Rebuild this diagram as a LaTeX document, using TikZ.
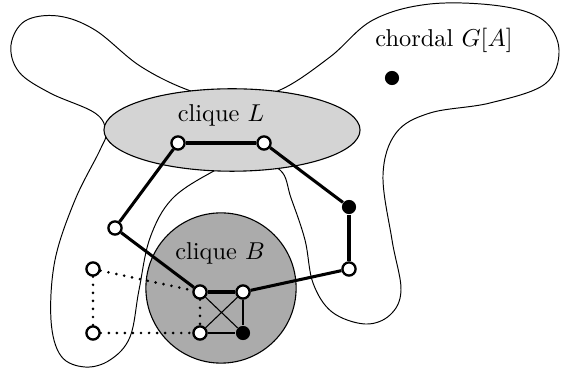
\documentclass[tikz,border=0pt]{standalone}
\pgfdeclarelayer{regions}
\pgfdeclarelayer{edges}
\pgfsetlayers{regions,edges,main}
\begin{document}
\begin{tikzpicture}[x=0.41pt,y=-0.41pt,
  blob/.style={line width=0.4pt},
  openv/.style={circle,draw,fill=white,line width=0.95pt,minimum size=5.4pt,inner sep=0pt},
  fullv/.style={circle,fill=black,minimum size=5.8pt,inner sep=0pt},
  thickedge/.style={line width=1.25pt},
  thinedge/.style={line width=0.45pt},
  dotedge/.style={line width=1.2pt,dash pattern=on 0pt off 3.3pt,line cap=round},
  lbl/.style={inner sep=0pt}]
\useasboundingbox (0,0) rectangle (561,370);
% vertices
\node[openv] (L1) at (178,143) {};
\node[openv] (L2) at (264,143) {};
\node[fullv] (R1) at (349,207) {};
\node[openv] (R2) at (349,269) {};
\node[openv] (P) at (115,228) {};
\node[openv] (B1) at (200,292) {};
\node[openv] (B2) at (243,292) {};
\node[openv] (B3) at (200,333) {};
\node[fullv] (B4) at (243,333) {};
\node[openv] (D1) at (93,269) {};
\node[openv] (D2) at (93,333) {};
\node[fullv] (X) at (392,78) {};
\node[lbl] (tL) at (221,115) {clique $L$};
\node[lbl] (tB) at (220,253) {clique $B$};
\node[lbl] (tA) at (444,40) {chordal $G[A]$};
\begin{pgfonlayer}{regions}
\draw[blob] plot[smooth cycle,tension=0.6] coordinates {
 (11,45) (25,21) (58,16) (95,30) (140,66) (188,90)
 (232,100) (280,90) (330,57) (373,20) (430,4) (500,6) (543,20) (559,50) (545,84)
 (490,103) (430,113) (396,133) (383,175) (392,240) (401,290) (390,315) (365,324)
 (332,312) (313,283) (305,240) (291,198) (280,170)
 (245,158) (212,172) (172,199) (150,238) (139,290) (130,337) (110,360) (85,367)
 (61,356) (51,320) (55,260) (75,200) (100,150) (106,132) (95,113) (50,93) (19,72)};
\draw[fill=black!17,line width=0.45pt] (232,130) ellipse [x radius=52.5pt,y radius=16.9pt];
\draw[fill=black!33,line width=0.45pt] (221,288) circle [radius=30.8pt];
\end{pgfonlayer}
\begin{pgfonlayer}{edges}
\draw[thickedge] (L1) -- (L2);
\draw[thickedge] (L2) -- (R1);
\draw[thickedge] (R1) -- (R2);
\draw[thickedge] (R2) -- (B2);
\draw[thickedge] (B2) -- (B1);
\draw[thickedge] (B1) -- (P);
\draw[thickedge] (P) -- (L1);
\draw[thinedge] (B1) -- (B4);
\draw[thinedge] (B2) -- (B3);
\draw[thinedge] (B2) -- (B4);
\draw[thinedge] (B3) -- (B4);
\draw[dotedge] (B1) -- (B3);
\draw[dotedge] (D1) -- (B1);
\draw[dotedge] (D2) -- (B3);
\draw[dotedge] (D1) -- (D2);
\end{pgfonlayer}
\end{tikzpicture}
\end{document}
